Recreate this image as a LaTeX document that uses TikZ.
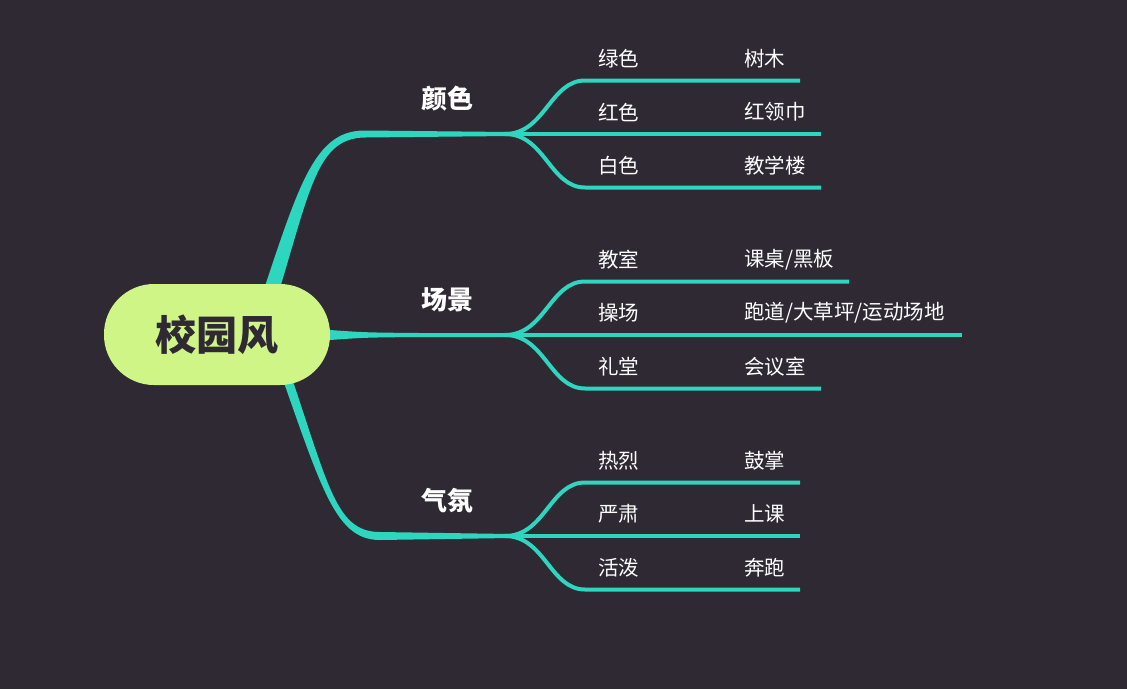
\documentclass[tikz,border=0pt]{standalone}
\usepackage{fontspec}
\setmainfont{Noto Sans CJK SC}
\definecolor{bg}{RGB}{47,41,52}
\definecolor{mmteal}{RGB}{45,214,190}
\definecolor{rootfill}{RGB}{208,245,135}
\definecolor{roottext}{RGB}{47,41,52}
\tikzset{
  leaf/.style={anchor=west, text=white, font=\fontsize{20.5}{24}\selectfont, inner sep=0pt},
  topic/.style={anchor=center, text=white, font=\fontsize{26}{30}\selectfont\bfseries, inner sep=0pt},
  twig/.style={draw=mmteal, line width=4pt},
  mainbranch/.style={fill=mmteal},
  rootnode/.style={fill=rootfill, rounded corners=50pt, minimum width=226pt, minimum height=101pt,
    inner sep=0pt, font=\fontsize{41}{48}\selectfont\bfseries, text=roottext}
}
\begin{document}
\begin{tikzpicture}[x=1pt,y=-1pt]
\useasboundingbox (0,0) rectangle (1127,689);
\fill[bg] (0,0) rectangle (1127,689);

% main branches (tapered)
\fill[mainbranch] (249.4,332.5) .. controls (296.4,194.8) and (310,130) .. (365,130.5) -- (510,132) -- (510,136) -- (365,137.5) .. controls (312,138) and (309.6,199.2) .. (264.6,337.5) -- cycle;
\fill[mainbranch] (300,329.5) -- (330,330) .. controls (365,332.5) .. (420,333) -- (510,333) -- (510,337) -- (420,337) .. controls (365,337.5) .. (330,340) -- (300,340.5) -- cycle;
\fill[mainbranch] (267.5,336.5) .. controls (320,481.5) and (332,540) .. (380,540) -- (510,538) -- (510,534) -- (380,532) .. controls (332,532) and (328,478.5) .. (276.5,333.5) -- cycle;

% sub branches
\foreach \n/\y/\d/\e/\l/\r in {
  a1/134/-53.5/800/绿色/树木,
  a2/134/0/821/红色/红领巾,
  a3/134/53.5/821/白色/教学楼,
  b1/335/-53.5/849/教室/{课桌/黑板},
  b2/335/0/962/操场/{跑道/大草坪/运动场地},
  b3/335/53.5/821/礼堂/会议室,
  c1/536/-53.5/800/热烈/鼓掌,
  c2/536/0/800/严肃/上课,
  c3/536/53.5/800/活泼/奔跑}{
  \coordinate (fk\n) at (505,\y);
  \coordinate (s\n) at (585,{\y+\d});
  \coordinate (e\n) at (\e,{\y+\d});
  \draw[twig] (fk\n) .. controls +(40,0) and +(-35,0) .. (s\n) -- (e\n);
  \node[leaf] (l\n) at (598,{\y+\d-22}) {\l};
  \node[leaf] (r\n) at (744,{\y+\d-22}) {\r};
}

% root
\node[rootnode] (root) at (217,334.5) {校园风};

% topics
\node[topic] (t1) at (447,99) {颜色};
\node[topic] (t2) at (447,300) {场景};
\node[topic] (t3) at (447,501) {气氛};
\end{tikzpicture}
\end{document}
